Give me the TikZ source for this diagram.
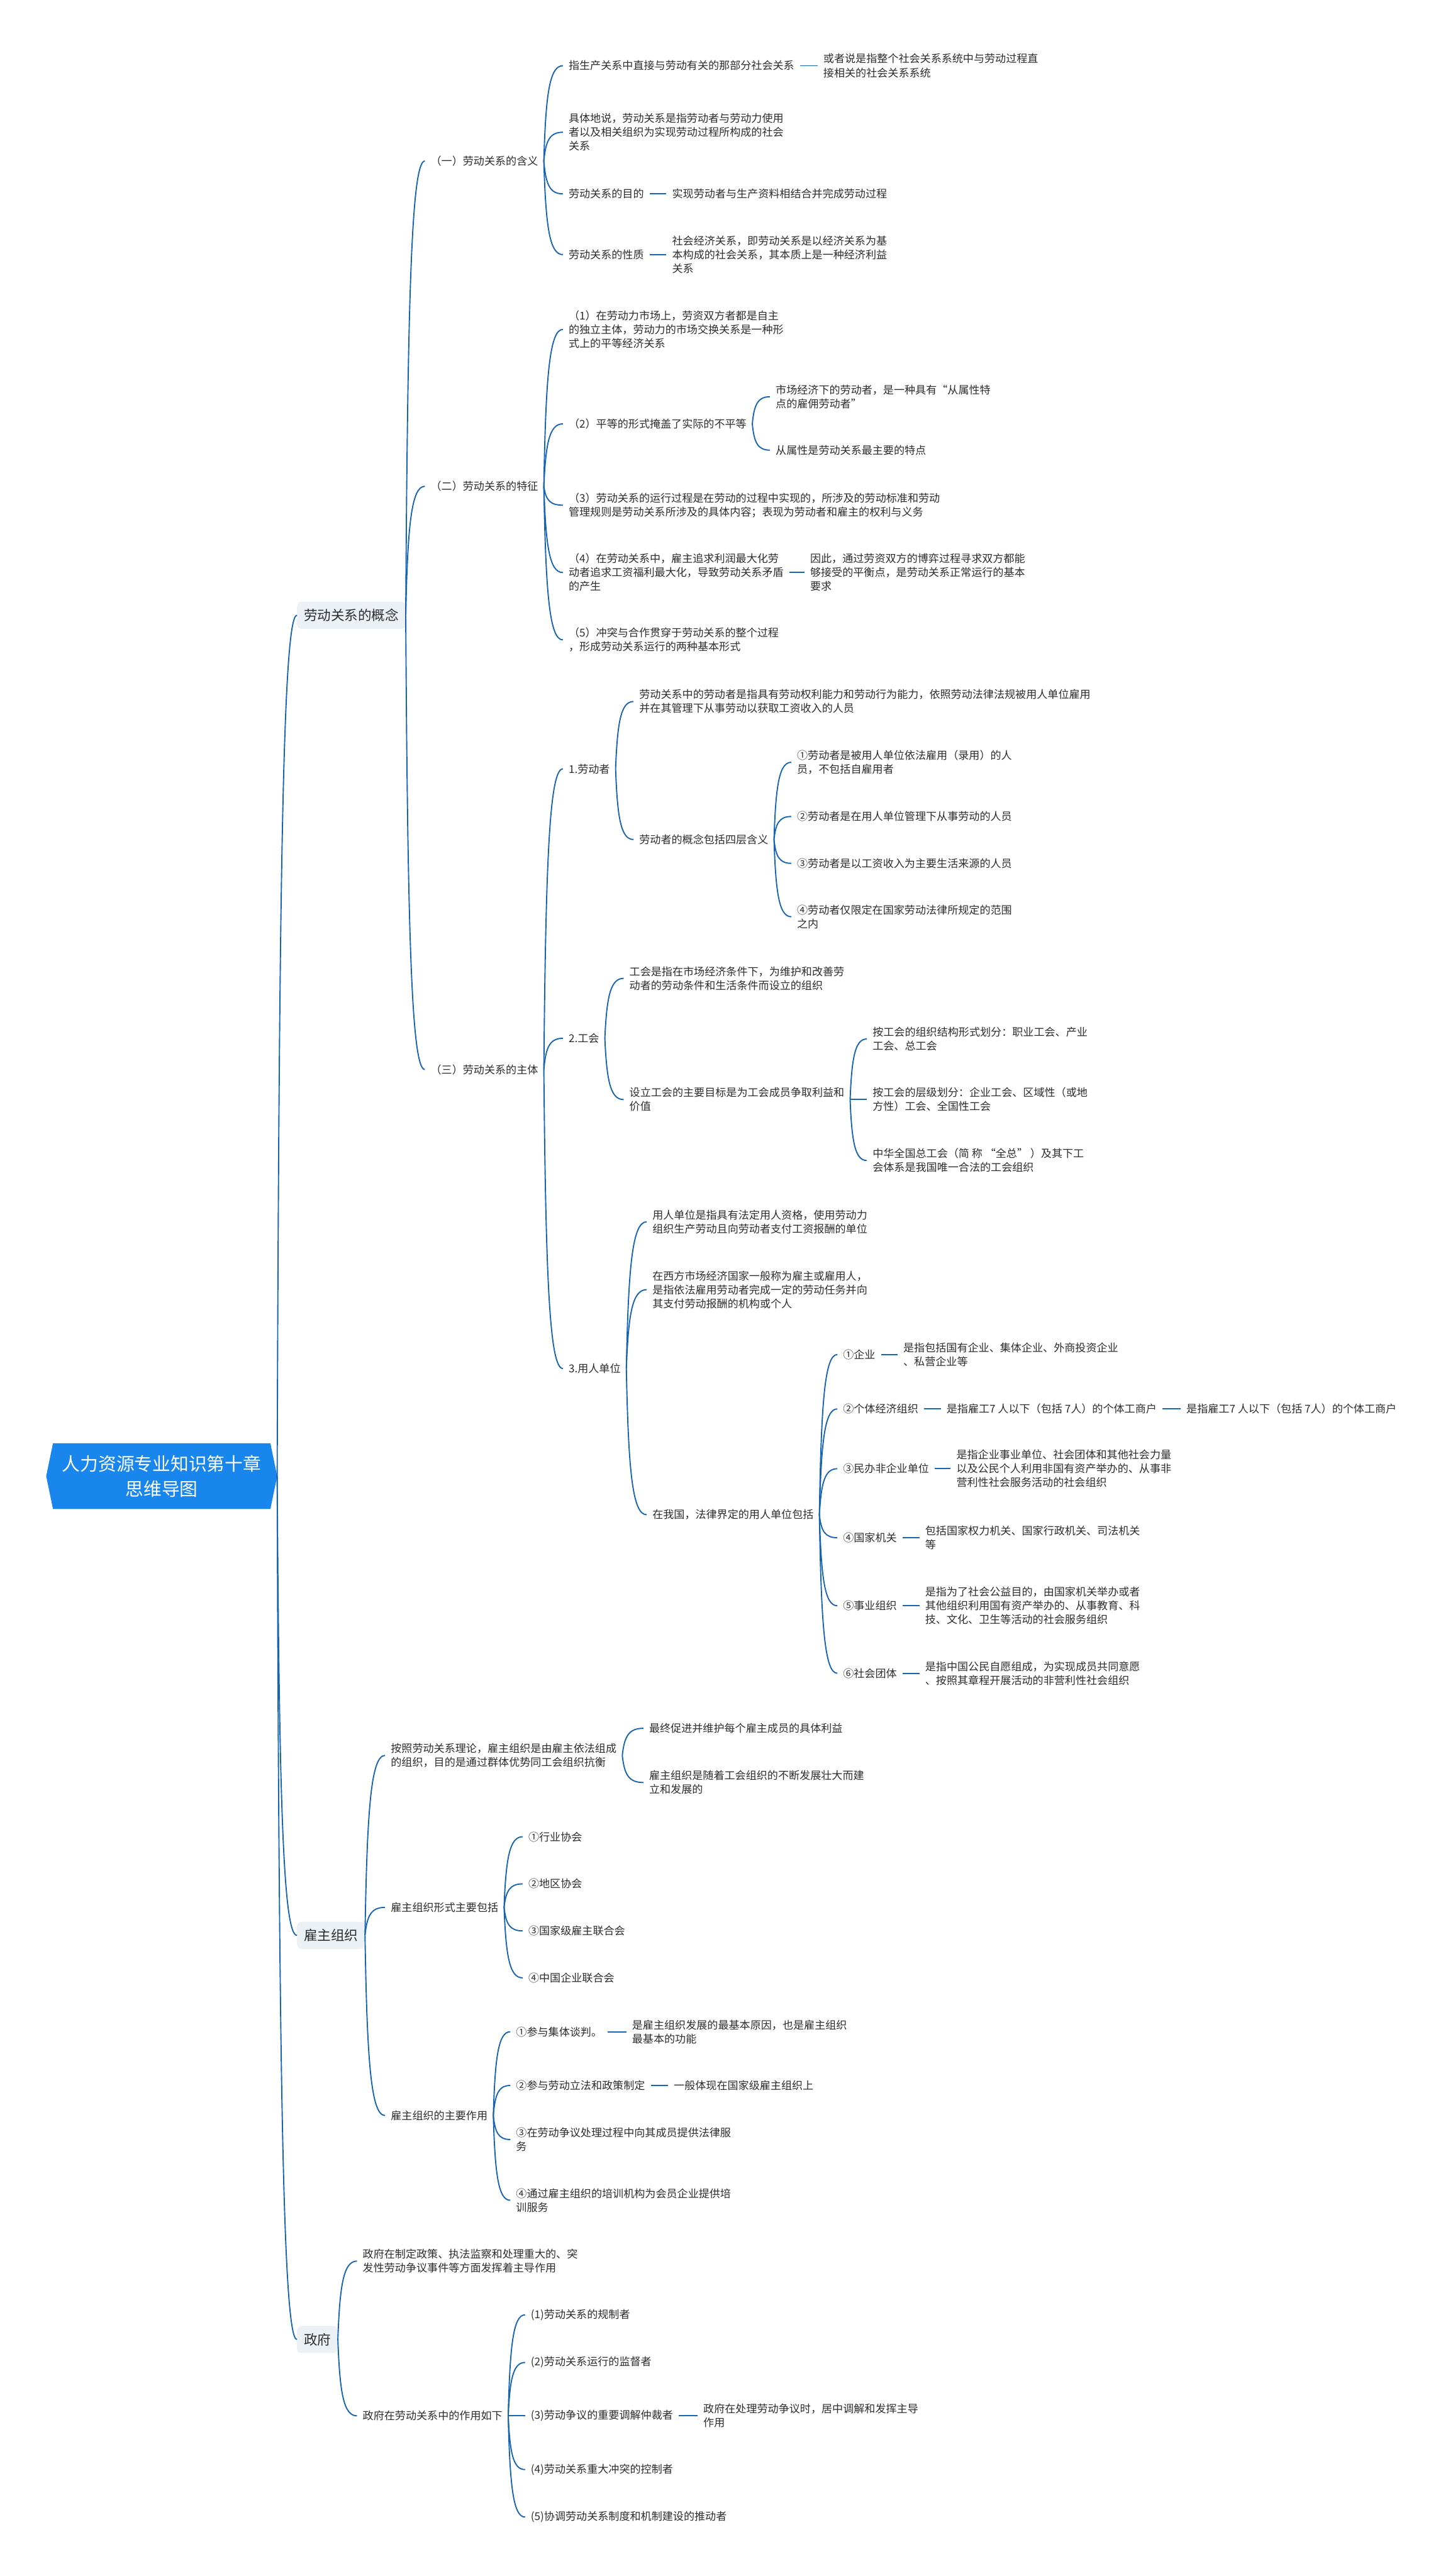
\documentclass[tikz,border=0pt]{standalone}
\usepackage{fontspec}
\setmainfont{Noto Sans CJK SC}
\usetikzlibrary{calc,backgrounds}
\definecolor{linec}{RGB}{22,100,178}
\definecolor{rootc}{RGB}{24,134,236}
\definecolor{lonefill}{RGB}{236,241,246}
\definecolor{txtc}{RGB}{45,45,45}
\newcommand\mmconn[2]{%
  \draw[cline] let \p1=(#1.east), \p2=(#2.west) in
  (\p1) .. controls ({\x1+0.1*(\x2-\x1)},{\y1+0.7*(\y2-\y1)}) and ({\x1+0.3*(\x2-\x1)},{\y2}) .. (\p2);}
\begin{document}
\begin{tikzpicture}[x=2.9055pt,y=-2.9055pt,
  cline/.style={draw=linec,line width=2.1pt},
  txt/.style={anchor=west,xshift=-10pt,inner xsep=10pt,inner ysep=2pt,align=left,
    font=\fontsize{19pt}{24.5pt}\selectfont,text=txtc},
  lone/.style={anchor=west,fill=lonefill,rounded corners=8pt,inner xsep=12pt,inner ysep=4pt,
    minimum height=48pt,font=\fontsize{24pt}{28pt}\selectfont,text=txtc},
  rootnode/.style={minimum width=408pt,minimum height=116pt,inner sep=0pt,align=center,
    font=\fontsize{32pt}{45pt}\selectfont,text=white}]
\useasboundingbox (0,0) rectangle (881,1568);

% root
\node[rootnode] (root) at (98.4,898.5) {人力资源专业知识第十章\\思维导图};
\begin{scope}[on background layer]
\fill[white] (0,0) rectangle (881,1568);
\fill[rootc] ([xshift=12pt]root.north west) -- (root.west) -- ([xshift=12pt]root.south west)
  -- ([xshift=-12pt]root.south east) -- (root.east) -- ([xshift=-12pt]root.north east) -- cycle;
\end{scope}

% level 1
\node[lone] (k) at (180.7,374.5) {劳动关系的概念};
\node[lone] (e) at (180.7,1178) {雇主组织};
\node[lone] (g) at (180.7,1424) {政府};

% 劳动关系的概念
\node[txt] (a1) at (262,98) {（一）劳动关系的含义};
\node[txt] (a2) at (262,296) {（二）劳动关系的特征};
\node[txt] (a3) at (262,651) {（三）劳动关系的主体};

\node[txt] (a11) at (346,40) {指生产关系中直接与劳动有关的那部分社会关系};
\node[txt] (a111) at (501,40) {或者说是指整个社会关系系统中与劳动过程直\\接相关的社会关系系统};
\node[txt] (a12) at (346,80.5) {具体地说，劳动关系是指劳动者与劳动力使用\\者以及相关组织为实现劳动过程所构成的社会\\关系};
\node[txt] (a13) at (346,118) {劳动关系的目的};
\node[txt] (a131) at (409,118) {实现劳动者与生产资料相结合并完成劳动过程};
\node[txt] (a14) at (346,155) {劳动关系的性质};
\node[txt] (a141) at (409,155) {社会经济关系，即劳动关系是以经济关系为基\\本构成的社会关系，其本质上是一种经济利益\\关系};

\node[txt] (a21) at (346,200.5) {（1）在劳动力市场上，劳资双方者都是自主\\的独立主体，劳动力的市场交换关系是一种形\\式上的平等经济关系};
\node[txt] (a22) at (346,258) {（2）平等的形式掩盖了实际的不平等};
\node[txt] (a221) at (472,241.5) {市场经济下的劳动者，是一种具有“从属性特\\点的雇佣劳动者”};
\node[txt] (a222) at (472,274) {从属性是劳动关系最主要的特点};
\node[txt] (a23) at (346,307.5) {（3）劳动关系的运行过程是在劳动的过程中实现的，所涉及的劳动标准和劳动\\管理规则是劳动关系所涉及的具体内容；表现为劳动者和雇主的权利与义务};
\node[txt] (a24) at (346,348.5) {（4）在劳动关系中，雇主追求利润最大化劳\\动者追求工资福利最大化，导致劳动关系矛盾\\的产生};
\node[txt] (a241) at (493,348.5) {因此，通过劳资双方的博弈过程寻求双方都能\\够接受的平衡点，是劳动关系正常运行的基本\\要求};
\node[txt] (a25) at (346,389.5) {（5）冲突与合作贯穿于劳动关系的整个过程\\，形成劳动关系运行的两种基本形式};

\node[txt] (b1) at (346,468) {1.劳动者};
\node[txt] (b11) at (389,427) {劳动关系中的劳动者是指具有劳动权利能力和劳动行为能力，依照劳动法律法规被用人单位雇用\\并在其管理下从事劳动以获取工资收入的人员};
\node[txt] (b12) at (389,511) {劳动者的概念包括四层含义};
\node[txt] (c1) at (485,464) {①劳动者是被用人单位依法雇用（录用）的人\\员，不包括自雇用者};
\node[txt] (c2) at (485,497) {②劳动者是在用人单位管理下从事劳动的人员};
\node[txt] (c3) at (485,525.5) {③劳动者是以工资收入为主要生活来源的人员};
\node[txt] (c4) at (485,558) {④劳动者仅限定在国家劳动法律所规定的范围\\之内};

\node[txt] (b2) at (346,632) {2.工会};
\node[txt] (b21) at (383,595.5) {工会是指在市场经济条件下，为维护和改善劳\\动者的劳动条件和生活条件而设立的组织};
\node[txt] (b22) at (383,669.3) {设立工会的主要目标是为工会成员争取利益和\\价值};
\node[txt] (d1) at (531,632.4) {按工会的组织结构形式划分：职业工会、产业\\工会、总工会};
\node[txt] (d2) at (531,669.3) {按工会的层级划分：企业工会、区域性（或地\\方性）工会、全国性工会};
\node[txt] (d3) at (531,706.4) {中华全国总工会（简 称 “全总” ）及其下工\\会体系是我国唯一合法的工会组织};

\node[txt] (b3) at (346,833) {3.用人单位};
\node[txt] (b31) at (397,743.7) {用人单位是指具有法定用人资格，使用劳动力\\组织生产劳动且向劳动者支付工资报酬的单位};
\node[txt] (b32) at (397,785) {在西方市场经济国家一般称为雇主或雇用人，\\是指依法雇用劳动者完成一定的劳动任务并向\\其支付劳动报酬的机构或个人};
\node[txt] (b33) at (397,922) {在我国，法律界定的用人单位包括};
\node[txt] (f1) at (513,824.5) {①企业};
\node[txt] (f1a) at (549.7,824.5) {是指包括国有企业、集体企业、外商投资企业\\、私营企业等};
\node[txt] (f2) at (513,857.6) {②个体经济组织};
\node[txt] (f2a) at (576,857.6) {是指雇工7 人以下（包括 7人）的个体工商户};
\node[txt] (f2b) at (722,857.6) {是指雇工7 人以下（包括 7人）的个体工商户};
\node[txt] (f3) at (513,894) {③民办非企业单位};
\node[txt] (f3a) at (582,894) {是指企业事业单位、社会团体和其他社会力量\\以及公民个人利用非国有资产举办的、从事非\\营利性社会服务活动的社会组织};
\node[txt] (f4) at (513,936) {④国家机关};
\node[txt] (f4a) at (563,936) {包括国家权力机关、国家行政机关、司法机关\\等};
\node[txt] (f5) at (513,977.4) {⑤事业组织};
\node[txt] (f5a) at (563,977.4) {是指为了社会公益目的，由国家机关举办或者\\其他组织利用国有资产举办的、从事教育、科\\技、文化、卫生等活动的社会服务组织};
\node[txt] (f6) at (513,1018.5) {⑥社会团体};
\node[txt] (f6a) at (563,1018.5) {是指中国公民自愿组成，为实现成员共同意愿\\、按照其章程开展活动的非营利性社会组织};

% 雇主组织
\node[txt] (e1) at (237.8,1068.5) {按照劳动关系理论，雇主组织是由雇主依法组成\\的组织，目的是通过群体优势同工会组织抗衡};
\node[txt] (e11) at (395,1052) {最终促进并维护每个雇主成员的具体利益};
\node[txt] (e12) at (395,1085) {雇主组织是随着工会组织的不断发展壮大而建\\立和发展的};
\node[txt] (e2) at (237.8,1161) {雇主组织形式主要包括};
\node[txt] (e21) at (321.5,1118) {①行业协会};
\node[txt] (e22) at (321.5,1146.7) {②地区协会};
\node[txt] (e23) at (321.5,1175.3) {③国家级雇主联合会};
\node[txt] (e24) at (321.5,1203.9) {④中国企业联合会};
\node[txt] (e3) at (237.8,1287.7) {雇主组织的主要作用};
\node[txt] (e31) at (314,1236.7) {①参与集体谈判。};
\node[txt] (e311) at (384.6,1236.7) {是雇主组织发展的最基本原因，也是雇主组织\\最基本的功能};
\node[txt] (e32) at (314,1269.4) {②参与劳动立法和政策制定};
\node[txt] (e321) at (410,1269.4) {一般体现在国家级雇主组织上};
\node[txt] (e33) at (314,1302.3) {③在劳动争议处理过程中向其成员提供法律服\\务};
\node[txt] (e34) at (314,1339.3) {④通过雇主组织的培训机构为会员企业提供培\\训服务};

% 政府
\node[txt] (g1) at (220.7,1376.3) {政府在制定政策、执法监察和处理重大的、突\\发性劳动争议事件等方面发挥着主导作用};
\node[txt] (g2) at (220.7,1470.5) {政府在劳动关系中的作用如下};
\node[txt] (g21) at (323,1409) {(1)劳动关系的规制者};
\node[txt] (g22) at (323,1438) {(2)劳动关系运行的监督者};
\node[txt] (g23) at (323,1470.5) {(3)劳动争议的重要调解仲裁者};
\node[txt] (g231) at (428,1470.5) {政府在处理劳动争议时，居中调解和发挥主导\\作用};
\node[txt] (g24) at (323,1503.2) {(4)劳动关系重大冲突的控制者};
\node[txt] (g25) at (323,1532.1) {(5)协调劳动关系制度和机制建设的推动者};

% connectors
\mmconn{root}{k}\mmconn{root}{e}\mmconn{root}{g}
\mmconn{k}{a1}\mmconn{k}{a2}\mmconn{k}{a3}
\mmconn{a1}{a11}\mmconn{a11}{a111}\mmconn{a1}{a12}\mmconn{a1}{a13}\mmconn{a13}{a131}
\mmconn{a1}{a14}\mmconn{a14}{a141}
\mmconn{a2}{a21}\mmconn{a2}{a22}\mmconn{a22}{a221}\mmconn{a22}{a222}
\mmconn{a2}{a23}\mmconn{a2}{a24}\mmconn{a24}{a241}\mmconn{a2}{a25}
\mmconn{a3}{b1}\mmconn{a3}{b2}\mmconn{a3}{b3}
\mmconn{b1}{b11}\mmconn{b1}{b12}
\mmconn{b12}{c1}\mmconn{b12}{c2}\mmconn{b12}{c3}\mmconn{b12}{c4}
\mmconn{b2}{b21}\mmconn{b2}{b22}
\mmconn{b22}{d1}\mmconn{b22}{d2}\mmconn{b22}{d3}
\mmconn{b3}{b31}\mmconn{b3}{b32}\mmconn{b3}{b33}
\mmconn{b33}{f1}\mmconn{b33}{f2}\mmconn{b33}{f3}\mmconn{b33}{f4}\mmconn{b33}{f5}\mmconn{b33}{f6}
\mmconn{f1}{f1a}\mmconn{f2}{f2a}\mmconn{f2a}{f2b}\mmconn{f3}{f3a}\mmconn{f4}{f4a}\mmconn{f5}{f5a}\mmconn{f6}{f6a}
\mmconn{e}{e1}\mmconn{e}{e2}\mmconn{e}{e3}
\mmconn{e1}{e11}\mmconn{e1}{e12}
\mmconn{e2}{e21}\mmconn{e2}{e22}\mmconn{e2}{e23}\mmconn{e2}{e24}
\mmconn{e3}{e31}\mmconn{e31}{e311}\mmconn{e3}{e32}\mmconn{e32}{e321}\mmconn{e3}{e33}\mmconn{e3}{e34}
\mmconn{g}{g1}\mmconn{g}{g2}
\mmconn{g2}{g21}\mmconn{g2}{g22}\mmconn{g2}{g23}\mmconn{g23}{g231}\mmconn{g2}{g24}\mmconn{g2}{g25}
\end{tikzpicture}
\end{document}
